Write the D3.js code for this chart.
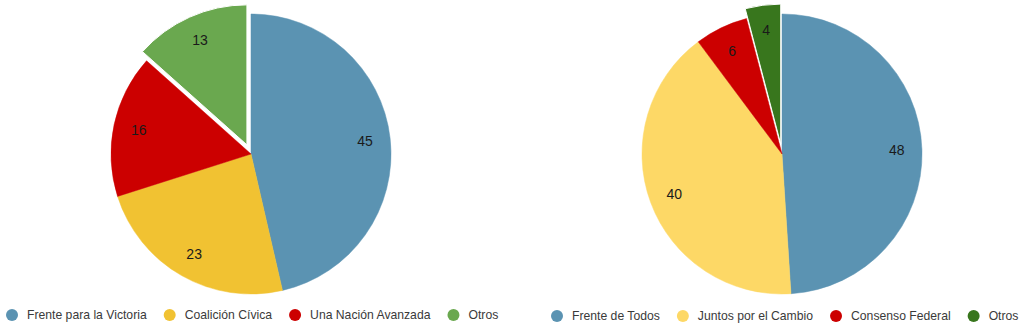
<!DOCTYPE html>
<html>
<head>
<meta charset="utf-8">
<script src="https://cdn.jsdelivr.net/npm/d3@7"></script>
<style>
  html, body { margin: 0; padding: 0; background: #fff; }
  svg { display: block; font-family: "Liberation Sans", Arial, sans-serif; }
</style>
</head>
<body>
<svg id="chart" width="1024" height="326"></svg>
<script>
// Data
const partiesLeft = ["Frente para la Victoria", "Coalición Cívica", "Una Nación Avanzada", "Otros"]
const valuesLeft = [45, 23, 16, 13]
const colorsLeft = ["#5b93b2", "#f1c232", "#cc0000", "#6aa84f"]

const partiesRight = ["Frente de Todos", "Juntos por el Cambio", "Consenso Federal", "Otros"]
const valuesRight = [48, 40, 6, 4]
const colorsRight = ["#5b93b2", "#fdd866", "#cc0000", "#38761d"]

const svg = d3.select("#chart")
const radius = 140
const explode = 10

// Draw one pie with the last slice pulled out
function drawPie(cx, cy, labels, values, colors) {
    const g = svg.append("g").attr("transform", `translate(${cx},${cy})`)
    const pie = d3.pie().sort(null).value(d => d.value)
    const arcs = pie(values.map((v, i) => ({ label: labels[i], value: v, color: colors[i] })))
    const arc = d3.arc().innerRadius(0).outerRadius(radius)
    const labelArc = d3.arc().innerRadius(radius * 0.82).outerRadius(radius * 0.82)
    const last = arcs.length - 1

    const slices = g.selectAll("g.slice")
        .data(arcs)
        .join("g")
        .attr("class", "slice")
        .attr("transform", (d, i) => {
            if (i !== last) return null
            const mid = (d.startAngle + d.endAngle) / 2
            return `translate(${Math.sin(mid) * explode},${-Math.cos(mid) * explode})`
        })

    slices.append("path")
        .attr("d", arc)
        .attr("fill", d => d.data.color)
        .attr("stroke", (d, i) => i === last ? "#fff" : d.data.color)
        .attr("stroke-width", (d, i) => i === last ? 1 : 0.5)

    slices.append("text")
        .attr("transform", d => `translate(${labelArc.centroid(d)})`)
        .attr("text-anchor", "middle")
        .attr("dominant-baseline", "central")
        .attr("font-size", 14)
        .attr("fill", "#1a1a1a")
        .text(d => d.data.value)
}

// Legend row: dot then text, items laid out by text width
function drawLegend(x0, y, labels, colors) {
    const g = svg.append("g").attr("transform", `translate(0,${y})`)
    let x = x0
    labels.forEach((label, i) => {
        g.append("circle")
            .attr("cx", x).attr("cy", 0).attr("r", 6)
            .attr("fill", colors[i])
        const t = g.append("text")
            .attr("x", x + 15).attr("y", 0)
            .attr("dominant-baseline", "central")
            .attr("font-size", 12.2)
            .attr("fill", "#3a3a3a")
            .text(label)
        x += 15 + t.node().getComputedTextLength() + 23
    })
}

drawPie(251, 154, partiesLeft, valuesLeft, colorsLeft)
drawPie(782, 154, partiesRight, valuesRight, colorsRight)
drawLegend(12, 315, partiesLeft, colorsLeft)
drawLegend(557, 316, partiesRight, colorsRight)
</script>
</body>
</html>
